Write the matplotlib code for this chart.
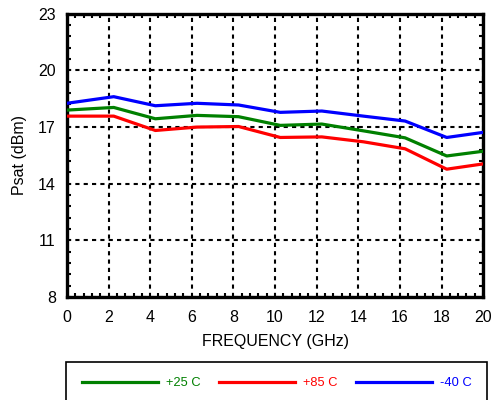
import matplotlib
matplotlib.use("Agg")
import matplotlib.pyplot as plt
from matplotlib.ticker import MultipleLocator
from matplotlib.patches import Rectangle

plt.rcParams['font.family'] = ['Liberation Sans', 'DejaVu Sans']

# Datos
freq = [0, 2.25, 4.25, 6.25, 8.25, 10.25, 12.25, 14.25, 16.25, 18.25, 20]
psat_25 = [17.9, 18.04, 17.44, 17.62, 17.55, 17.09, 17.16, 16.8, 16.43, 15.47, 15.72]
psat_85 = [17.58, 17.58, 16.82, 17.0, 17.03, 16.45, 16.48, 16.22, 15.85, 14.77, 15.05]
psat_m40 = [18.26, 18.61, 18.13, 18.26, 18.17, 17.78, 17.85, 17.58, 17.32, 16.45, 16.72]
etiquetas = ["+25 C", "+85 C", "-40 C"]
colores = ["#008000", "#ff0000", "#0000ff"]
yticks = [8, 11, 14, 17, 20, 23]
xticks = [0, 2, 4, 6, 8, 10, 12, 14, 16, 18, 20]

fig = plt.figure(figsize=(4.92, 4.0), dpi=100)
ax = fig.add_axes([0.136, 0.2575, 0.846, 0.708])

lineas = []
for serie, etiqueta, color in zip([psat_25, psat_85, psat_m40], etiquetas, colores):
    l, = ax.plot(freq, serie, color=color, lw=2.3, label=etiqueta, zorder=3)
    lineas.append(l)

ax.set_xlim(0, 20)
ax.set_ylim(8, 23)
ax.set_xticks(xticks)
ax.set_yticks(yticks)
ax.xaxis.set_minor_locator(MultipleLocator(0.4))
ax.yaxis.set_minor_locator(MultipleLocator(0.6, offset=0.2))

ax.grid(True, which="major", color="black", lw=1.5, ls=(0, (2, 2)))
ax.tick_params(which="both", direction="in", top=True, right=True,
               width=1.5, labelsize=11.5)
ax.tick_params(axis="x", pad=9)
ax.tick_params(axis="y", pad=8)
ax.tick_params(which="major", length=0)
ax.tick_params(which="minor", length=3)
for s in ax.spines.values():
    s.set_linewidth(2.4)

ax.set_xlabel("FREQUENCY (GHz)", fontsize=11.5, labelpad=7)
ax.set_ylabel("Psat (dBm)", fontsize=11.5, labelpad=8)

# Caja de leyenda
fig.patches.append(Rectangle((0.134, -0.05), 0.855, 0.145, transform=fig.transFigure,
                             fill=False, edgecolor="black", lw=1.2))
leg = fig.legend(handles=lineas, loc="center", bbox_to_anchor=(0.563, 0.0425),
                 ncol=3, frameon=False, fontsize=9.3, handlelength=5.9,
                 handletextpad=0.62, columnspacing=1.4)
for texto, color in zip(leg.get_texts(), colores):
    texto.set_color(color)

fig.savefig("out.png", dpi=100)
